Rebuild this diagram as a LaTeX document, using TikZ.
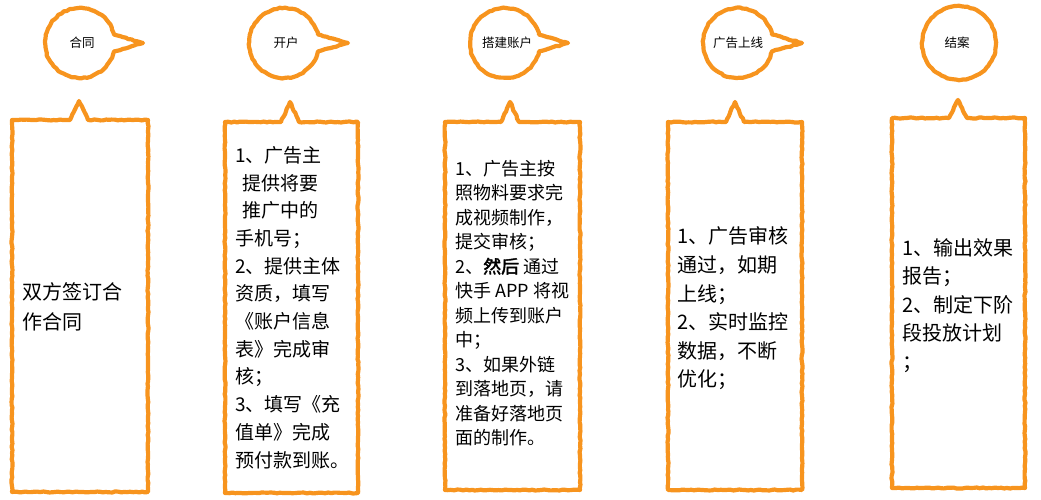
\documentclass[tikz,border=0pt]{standalone}
\usepackage{fontspec}
\setmainfont{Noto Sans CJK SC}[AutoFakeBold=2]
\usetikzlibrary{decorations.pathmorphing}
\definecolor{sketchorange}{RGB}{247,148,30}
\tikzset{
  sketch/.style={draw=sketchorange, line width=4.2pt, line join=round, line cap=round,
    decorate, decoration={random steps, segment length=3pt, amplitude=0.5pt}},
  tagtext/.style={font=\fontsize{12.5}{14}\selectfont, inner sep=0pt},
  boxtext/.style={align=left, anchor=west, inner sep=0pt},
}
\begin{document}
\begin{tikzpicture}[x=1pt, y=-1pt]
  \useasboundingbox (0,0) rectangle (1041,500);

  % speech bubbles
  \draw[sketch] (80,43) ++(14:35) arc[start angle=14, end angle=346, radius=35] -- (143,43) -- cycle;
  \draw[sketch] (284,43) ++(14:35) arc[start angle=14, end angle=346, radius=35] -- (348,43) -- cycle;
  \draw[sketch] (505,43) ++(14:35) arc[start angle=14, end angle=346, radius=35] -- (568,43) -- cycle;
  \draw[sketch] (738,43) ++(14:35) arc[start angle=14, end angle=346, radius=35] -- (802,43) -- cycle;
  \draw[sketch] (959,43) circle[radius=37];

  \node[tagtext] (contracttag) at (82,43) {合同};
  \node[tagtext] (opentag) at (286,43) {开户};
  \node[tagtext] (buildtag) at (507,43) {搭建账户};
  \node[tagtext] (launchtag) at (738,43) {广告上线};
  \node[tagtext] (closetag) at (957,43) {结案};

  % boxes with notch
  \draw[sketch] (12,120) -- (70,120) -- (79,101) -- (88,120) -- (148,120) -- (148,492) -- (12,492) -- cycle;
  \draw[sketch] (225,122) -- (281,122) -- (290,102) -- (299,122) -- (358,122) -- (358,493) -- (225,493) -- cycle;
  \draw[sketch] (445,122) -- (501,122) -- (510,102) -- (519,122) -- (580,122) -- (580,490) -- (445,490) -- cycle;
  \draw[sketch] (668,122) -- (726,122) -- (735,102) -- (744,122) -- (802,122) -- (802,490) -- (668,490) -- cycle;
  \draw[sketch] (892,118) -- (949,118) -- (958,100) -- (967,118) -- (1025,118) -- (1025,488) -- (892,488) -- cycle;

  \node[boxtext, font=\fontsize{20}{30}\selectfont] (contract) at (22,307) {双方签订合\\作合同};
  \node[boxtext, font=\fontsize{19}{27.7}\selectfont] (openacct) at (235,307.5)
    {1、广告主\\\hspace{0.4em}提供将要\\\hspace{0.4em}推广中的\\手机号；\\2、提供主体\\资质，填写\\《账户信息\\表》完成审\\核；\\3、填写《充\\值单》完成\\预付款到账。};
  \node[boxtext, font=\fontsize{18}{24.5}\selectfont] (buildacct) at (455,303)
    {1、广告主按\\照物料要求完\\成视频制作，\\提交审核；\\2、\textbf{然后} 通过\\快手 APP 将视\\频上传到账户\\中；\\3、如果外链\\到落地页，请\\准备好落地页\\面的制作。};
  \node[boxtext, font=\fontsize{20}{28.6}\selectfont] (launch) at (677,308.5)
    {1、广告审核\\通过，如期\\上线；\\2、实时监控\\数据，不断\\优化；};
  \node[boxtext, font=\fontsize{20}{28.6}\selectfont] (closing) at (902,305.5)
    {1、输出效果\\报告；\\2、制定下阶\\段投放计划\\；};

\end{tikzpicture}
\end{document}
